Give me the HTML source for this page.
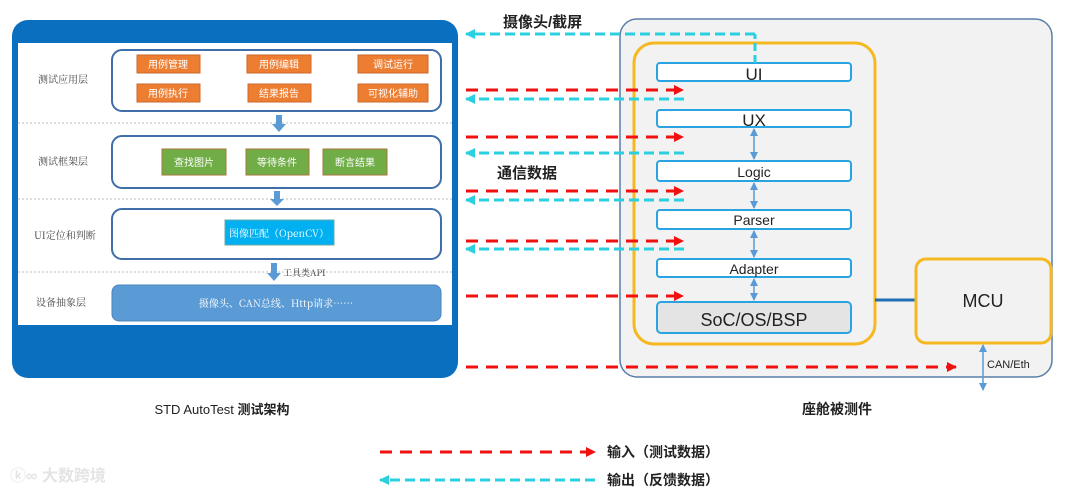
<!DOCTYPE html>
<html><head><meta charset="utf-8"><style>
body{margin:0;background:#fff;}
svg{display:block;}
text{font-family:"Liberation Sans","Noto Sans CJK SC",sans-serif;}
.cn{font-family:"Noto Serif CJK SC","Noto Sans CJK SC",serif;}
</style></head><body>
<svg width="1080" height="493" viewBox="0 0 1080 493" xmlns="http://www.w3.org/2000/svg">
<defs>
<marker id="ar" markerWidth="10" markerHeight="10" refX="9" refY="5" orient="auto" markerUnits="userSpaceOnUse"><path d="M0,0 L10,5 L0,10z" fill="#f01010"/></marker>
<marker id="ac" markerWidth="10" markerHeight="10" refX="9" refY="5" orient="auto" markerUnits="userSpaceOnUse"><path d="M0,0 L10,5 L0,10z" fill="#2bd0e0"/></marker>
<marker id="bs" markerWidth="8" markerHeight="8" refX="7" refY="4" orient="auto-start-reverse" markerUnits="userSpaceOnUse"><path d="M0,0 L8,4 L0,8z" fill="#5b9bd5"/></marker>
</defs>
<!-- Left framework -->
<rect x="12" y="20" width="446" height="358" rx="16" fill="#0b6fbf"/>
<rect x="18" y="43" width="434" height="282" fill="#fff"/>
<g stroke="#bbb" stroke-dasharray="2,2" stroke-width="1">
<line x1="18" y1="123" x2="452" y2="123"/><line x1="18" y1="199" x2="452" y2="199"/><line x1="18" y1="272" x2="452" y2="272"/>
</g>
<g font-size="10" fill="#444" class="cn">
<text x="38" y="83" class="cn">测试应用层</text>
<text x="38" y="165" class="cn">测试框架层</text>
<text x="34" y="239" class="cn">UI定位和判断</text>
<text x="36" y="306" class="cn">设备抽象层</text>
</g>
<g fill="none" stroke="#3e6fa8" stroke-width="2">
<rect x="112" y="50" width="329" height="61" rx="10"/>
<rect x="112" y="136" width="329" height="52" rx="10"/>
<rect x="112" y="209" width="329" height="50" rx="10"/>
</g>
<rect x="112" y="285" width="329" height="36" rx="7" fill="#5b9bd5" stroke="#4a84c0"/>
<text x="276" y="307" font-size="10" fill="#fff" text-anchor="middle" class="cn">摄像头、CAN总线、Http请求……</text>
<g fill="#ed7d31" stroke="#c9692b">
<rect x="137" y="55" width="63" height="18"/><rect x="247" y="55" width="64" height="18"/><rect x="358" y="55" width="70" height="18"/>
<rect x="137" y="84" width="63" height="18"/><rect x="248" y="84" width="63" height="18"/><rect x="358" y="84" width="70" height="18"/>
</g>
<g font-size="10" fill="#fff" text-anchor="middle" class="cn">
<text x="168" y="68">用例管理</text><text x="279" y="68">用例编辑</text><text x="393" y="68">调试运行</text>
<text x="168" y="97">用例执行</text><text x="279" y="97">结果报告</text><text x="393" y="97">可视化辅助</text>
</g>
<g fill="#70ad47" stroke="#a8763a">
<rect x="162" y="149" width="64" height="26"/><rect x="246" y="149" width="63" height="26"/><rect x="323" y="149" width="64" height="26"/>
</g>
<g font-size="10" fill="#fff" text-anchor="middle" class="cn">
<text x="194" y="166">查找图片</text><text x="277" y="166">等待条件</text><text x="355" y="166">断言结果</text>
</g>
<rect x="225" y="220" width="109" height="25" fill="#00b0f0" stroke="#6aa"/>
<text x="279" y="237" font-size="10" fill="#fff" text-anchor="middle" class="cn">图像匹配（OpenCV）</text>
<g fill="#5b9bd5">
<path d="M276,115 h6 v9 h4 l-7,8 l-7,-8 h4z"/>
<path d="M274,191 h6 v8 h4 l-7,7 l-7,-7 h4z"/>
<path d="M271,263 h6 v10 h4 l-7,8 l-7,-8 h4z"/>
</g>
<text x="283" y="276" font-size="9" fill="#333" class="cn">工具类API</text>
<text x="222" y="414" font-size="13" fill="#222" text-anchor="middle">STD AutoTest <tspan font-weight="bold">测试架构</tspan></text>

<!-- Right DUT -->
<rect x="620" y="19" width="432" height="358" rx="17" fill="#f2f2f2" stroke="#5a7ea8" stroke-width="1.5"/>
<rect x="634" y="43" width="241" height="301" rx="20" fill="none" stroke="#f5b820" stroke-width="3"/>
<line x1="875" y1="300" x2="916" y2="300" stroke="#1f6fb5" stroke-width="3"/>
<rect x="916" y="259" width="135" height="84" rx="10" fill="#f2f2f2" stroke="#f5b820" stroke-width="3"/>
<text x="983" y="307" font-size="18" fill="#222" text-anchor="middle">MCU</text>
<g fill="#fff" stroke="#2aa4e0" stroke-width="2">
<rect x="657" y="63" width="194" height="18" rx="3"/>
<rect x="657" y="110" width="194" height="17" rx="3"/>
<rect x="657" y="161" width="194" height="20" rx="3"/>
<rect x="657" y="210" width="194" height="19" rx="3"/>
<rect x="657" y="259" width="194" height="18" rx="3"/>
<rect x="657" y="302" width="194" height="31" rx="4" fill="#e4e4e4"/>
</g>
<g fill="#222" text-anchor="middle">
<text x="754" y="80" font-size="17">UI</text>
<text x="754" y="126" font-size="17">UX</text>
<text x="754" y="177" font-size="14">Logic</text>
<text x="754" y="225" font-size="14">Parser</text>
<text x="754" y="274" font-size="14">Adapter</text>
<text x="754" y="326" font-size="18">SoC/OS/BSP</text>
</g>
<g stroke="#5b9bd5" stroke-width="1.5" marker-start="url(#bs)" marker-end="url(#bs)">
<line x1="754" y1="129" x2="754" y2="159"/>
<line x1="754" y1="183" x2="754" y2="208"/>
<line x1="754" y1="231" x2="754" y2="257"/>
<line x1="754" y1="279" x2="754" y2="300"/>
<line x1="983" y1="345" x2="983" y2="390"/>
</g>
<text x="987" y="368" font-size="11" fill="#222">CAN/Eth</text>
<text x="837" y="414" font-size="14" font-weight="bold" fill="#222" text-anchor="middle">座舱被测件</text>

<!-- Arrows -->
<g stroke="#f01010" stroke-width="3" stroke-dasharray="12,8" fill="none" marker-end="url(#ar)">
<line x1="466" y1="90" x2="683" y2="90"/>
<line x1="466" y1="137" x2="683" y2="137"/>
<line x1="466" y1="191" x2="683" y2="191"/>
<line x1="466" y1="241" x2="683" y2="241"/>
<line x1="466" y1="296" x2="683" y2="296"/>
<line x1="466" y1="367" x2="956" y2="367"/>
<line x1="380" y1="452" x2="595" y2="452"/>
</g>
<g stroke="#2bd0e0" stroke-width="3" stroke-dasharray="10,5" fill="none">
<line x1="755" y1="63" x2="755" y2="34" stroke-dasharray="8,4"/>
<line x1="755" y1="34" x2="466" y2="34" marker-end="url(#ac)"/>
<line x1="684" y1="99" x2="466" y2="99" marker-end="url(#ac)"/>
<line x1="684" y1="153" x2="466" y2="153" marker-end="url(#ac)"/>
<line x1="684" y1="200" x2="466" y2="200" marker-end="url(#ac)"/>
<line x1="684" y1="249" x2="466" y2="249" marker-end="url(#ac)"/>
<line x1="595" y1="480" x2="380" y2="480" marker-end="url(#ac)"/>
</g>
<text x="503" y="27" font-size="15" font-weight="bold" fill="#222">摄像头/截屏</text>
<text x="497" y="178" font-size="15" font-weight="bold" fill="#222">通信数据</text>
<text x="607" y="457" font-size="14" font-weight="bold" fill="#222">输入（测试数据）</text>
<text x="607" y="485" font-size="14" font-weight="bold" fill="#222">输出（反馈数据）</text>
<text x="10" y="481" font-size="16" fill="#e4e4e4" font-weight="bold">ⓚ∞ 大数跨境</text>
</svg>
</body></html>
